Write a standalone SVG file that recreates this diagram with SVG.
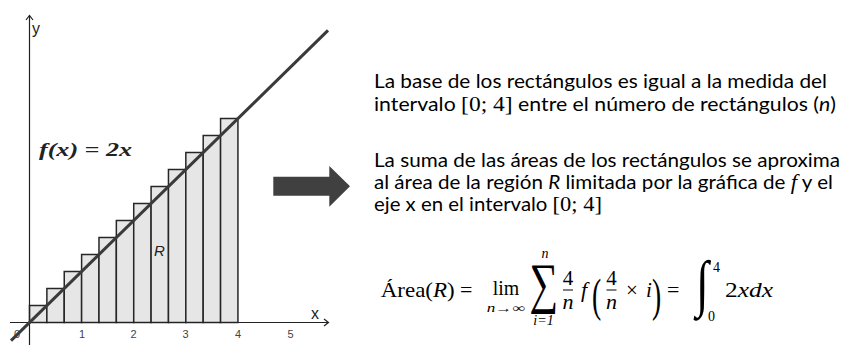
<svg xmlns="http://www.w3.org/2000/svg" width="847" height="345" viewBox="0 0 847 345">
<style>
.ax{stroke:#222;stroke-width:1.2;fill:none}
.rc{fill:#e6e6e6;stroke:#262626;stroke-width:1.5}
.tk{font-family:"Liberation Sans",Arial,sans-serif;font-size:11px;fill:#444;text-anchor:middle}
.body{font-family:Lato,"Liberation Sans",sans-serif;font-size:19px;fill:#000}
.m{font-family:"Liberation Serif","DejaVu Serif",serif;fill:#000}
.mi{font-family:"Liberation Serif","DejaVu Serif",serif;font-style:italic;fill:#000}
</style>
<rect width="847" height="345" fill="#fff"/>
<g id="graph">
  <g id="rects">
    <rect class="rc" x="29.5" y="305.5" width="17.37" height="17"/>
    <rect class="rc" x="46.87" y="288.5" width="17.37" height="34"/>
    <rect class="rc" x="64.24" y="271.5" width="17.37" height="51"/>
    <rect class="rc" x="81.61" y="254.5" width="17.37" height="68"/>
    <rect class="rc" x="98.98" y="237.5" width="17.37" height="85"/>
    <rect class="rc" x="116.35" y="220.5" width="17.37" height="102"/>
    <rect class="rc" x="133.72" y="203.5" width="17.37" height="119"/>
    <rect class="rc" x="151.09" y="186.5" width="17.37" height="136"/>
    <rect class="rc" x="168.46" y="169.5" width="17.37" height="153"/>
    <rect class="rc" x="185.83" y="152.5" width="17.37" height="170"/>
    <rect class="rc" x="203.2" y="135.5" width="17.37" height="187"/>
    <rect class="rc" x="220.57" y="118.5" width="17.37" height="204"/>
  </g>
  <g id="axes">
    <line class="ax" x1="29.5" y1="16" x2="29.5" y2="345"/>
    <polyline class="ax" points="26,20 29.5,15.5 33,20"/>
    <line class="ax" x1="10" y1="322.5" x2="328" y2="322.5"/>
    <polyline class="ax" points="324,319 328.5,322.5 324,326"/>
    <text x="32" y="34" font-family="'Liberation Sans',Arial,sans-serif" font-size="16" fill="#222">y</text>
    <text x="311" y="319" font-family="'Liberation Sans',Arial,sans-serif" font-size="16" fill="#222">x</text>
    <text class="tk" x="17" y="338">0</text>
    <text class="tk" x="82" y="338">1</text>
    <text class="tk" x="133.5" y="338">2</text>
    <text class="tk" x="185.5" y="338">3</text>
    <text class="tk" x="238" y="338">4</text>
    <text class="tk" x="290.5" y="338">5</text>
  </g>
  <line id="fline" x1="11" y1="340.6" x2="328" y2="30.4" stroke="#3a3a3a" stroke-width="3"/>
  <text x="39" y="156" font-family="'Liberation Serif','DejaVu Serif',serif" font-size="18" font-weight="bold" font-style="italic" fill="#222" textLength="93" lengthAdjust="spacingAndGlyphs">f(x) = 2x</text>
  <text x="154" y="256" font-family="'Liberation Sans',Arial,sans-serif" font-size="15" font-style="italic" fill="#222">R</text>
</g>
<g id="connectors">
  <polygon points="273.3,176.7 329.3,176.7 329.3,166 350,186.2 329.3,206.7 329.3,195.7 273.3,195.7" fill="#404040"/>
</g>
<g id="text1">
  <text class="body" x="374" y="88" textLength="453" lengthAdjust="spacingAndGlyphs">La base de los rectángulos es igual a la medida del</text>
  <text class="body" x="374" y="110.5" textLength="462" lengthAdjust="spacingAndGlyphs">intervalo <tspan class="m" font-size="21">[0; 4]</tspan> entre el número de rectángulos (<tspan font-style="italic">n</tspan>)</text>
</g>
<g id="text2">
  <text class="body" x="374" y="166.5" textLength="466" lengthAdjust="spacingAndGlyphs">La suma de las áreas de los rectángulos se aproxima</text>
  <text class="body" x="374" y="188.5" textLength="459" lengthAdjust="spacingAndGlyphs">al área de la región <tspan font-style="italic">R</tspan> limitada por la gráfica de <tspan class="mi" font-size="21">f</tspan>  y el</text>
  <text class="body" x="374" y="210.5" textLength="228" lengthAdjust="spacingAndGlyphs">eje x en el intervalo <tspan class="m" font-size="21">[0; 4]</tspan></text>
</g>
<g id="formula">
  <text class="m" x="380.7" y="297" font-size="22" textLength="74" lengthAdjust="spacingAndGlyphs">Área(<tspan class="mi">R</tspan>)</text>
  <text class="m" x="460" y="297" font-size="22">=</text>
  <text class="m" x="492.7" y="295" font-size="20" textLength="26.5" lengthAdjust="spacingAndGlyphs">lim</text>
  <text class="mi" x="486.7" y="312" font-size="12" textLength="38" lengthAdjust="spacingAndGlyphs">n→∞</text>
  <text class="m" x="543.5" y="302" font-size="56" text-anchor="middle" transform="translate(543.5 0) scale(0.72 1) translate(-543.5 0)">∑</text>
  <text class="mi" x="545" y="258" font-size="14" text-anchor="middle">n</text>
  <text class="mi" x="543.5" y="325" font-size="14" text-anchor="middle">i=1</text>
  <text class="m" x="568" y="285" font-size="21" text-anchor="middle">4</text>
  <line x1="563" y1="290" x2="573" y2="290" stroke="#000" stroke-width="1"/>
  <text class="mi" x="568" y="309" font-size="22" text-anchor="middle">n</text>
  <text class="mi" x="581" y="297" font-size="22">f</text>
  <text class="m" x="592" y="311" font-size="46" transform="translate(592 0) scale(0.6 1) translate(-592 0)">(</text>
  <text class="m" x="611.5" y="285" font-size="21" text-anchor="middle">4</text>
  <line x1="606.5" y1="290" x2="616.5" y2="290" stroke="#000" stroke-width="1"/>
  <text class="mi" x="611.5" y="309" font-size="22" text-anchor="middle">n</text>
  <text class="m" x="632" y="297" font-size="21" text-anchor="middle">×</text>
  <text class="mi" x="646" y="297" font-size="21">i</text>
  <text class="m" x="652" y="311" font-size="46" transform="translate(652 0) scale(0.6 1) translate(-652 0)">)</text>
  <text class="m" x="667" y="297" font-size="22">=</text>
  <text class="m" x="696" y="304" font-size="62" transform="translate(696 0) scale(0.75 1) translate(-696 0)">∫</text>
  <text class="m" x="713" y="272" font-size="14">4</text>
  <text class="m" x="708" y="321" font-size="14">0</text>
  <text class="m" x="725" y="297" font-size="22" textLength="48" lengthAdjust="spacingAndGlyphs">2<tspan class="mi">xdx</tspan></text>
</g>
</svg>
